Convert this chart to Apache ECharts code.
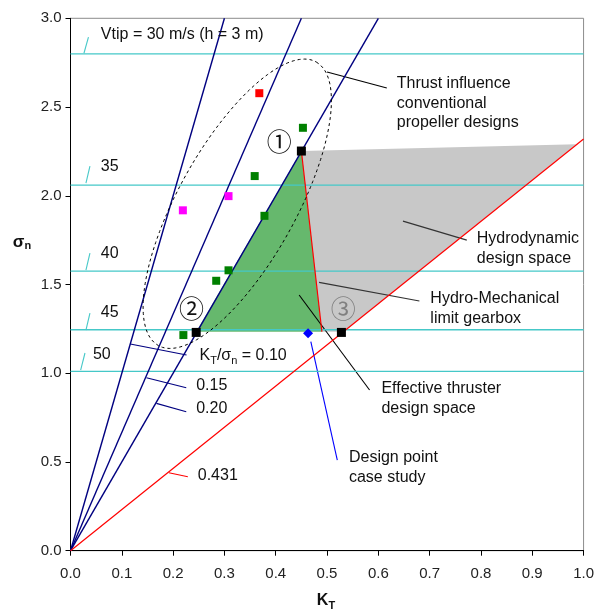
<!DOCTYPE html>
<html><head><meta charset="utf-8">
<script src="https://cdn.jsdelivr.net/npm/echarts@6/dist/echarts.min.js"></script>
<style>html,body{margin:0;padding:0;background:#fff}#c{width:597px;height:613px}</style>
</head><body><div id="c"></div>
<script>
// ---------------- data ----------------
const xTickValues = [0, 0.1, 0.2, 0.3, 0.4, 0.5, 0.6, 0.7, 0.8, 0.9, 1.0];
const yTickValues = [0, 0.5, 1.0, 1.5, 2.0, 2.5, 3.0];

// cavitation-number levels for tip speeds
const vtipSigma = [2.80, 2.06, 1.575, 1.245, 1.01];
const vtipLabels = ['Vtip = 30 m/s (h = 3 m)', '35', '40', '45', '50'];

// KT / sigma_n ratio lines
const ratioValues = [0.10, 0.15, 0.20];
const ratioLabels = ['0.10', '0.15', '0.20'];
const limitRatio = 0.431;

// existing designs
const greenKT = [0.453, 0.359, 0.378, 0.308, 0.284, 0.220];
const greenSigma = [2.383, 2.111, 1.887, 1.580, 1.521, 1.215];
const redKT = [0.368];
const redSigma = [2.578];
const magentaKT = [0.308, 0.219];
const magentaSigma = [1.998, 1.918];
const cornerKT = [0.450, 0.245, 0.528];
const cornerSigma = [2.252, 1.230, 1.230];
const designKT = [0.463];
const designSigma = [1.226];

// regions
const effectiveKT = [0.245, 0.450, 0.490];
const effectiveSigma = [1.234, 2.252, 1.234];
const hydroKT = [0.450, 0.986, 0.532, 0.490];
const hydroSigma = [2.252, 2.290, 1.234, 1.234];
const gearboxKT = [0.450, 0.490];
const gearboxSigma = [2.252, 1.234];

// ---------------- layout / style ----------------
const FONT = "'Liberation Sans', Arial, Helvetica, sans-serif";
const CJK = "'Noto Sans CJK JP', 'DejaVu Sans', sans-serif";
const CYAN = '#45c8c8';
const NAVY = '#000080';

const ellipse = { c: [0.325, 1.955], a: [0.1539, 0.799], b: [0.100, -0.162] };
function ellipsePts() {
  const pts = [];
  for (let i = 0; i <= 160; i++) {
    const t = i / 160 * Math.PI * 2;
    pts.push([ellipse.c[0] + ellipse.a[0] * Math.cos(t) + ellipse.b[0] * Math.sin(t),
              ellipse.c[1] + ellipse.a[1] * Math.cos(t) + ellipse.b[1] * Math.sin(t)]);
  }
  return pts;
}

const zip = (xs, ys) => xs.map((x, i) => [x, ys[i]]);

// annotation texts (first-line anchor in data units)
const notes = [
  { t: vtipLabels[0], p: [0.0592, 2.909] },
  { t: vtipLabels[1], p: [0.0592, 2.167] },
  { t: vtipLabels[2], p: [0.0592, 1.672] },
  { t: vtipLabels[3], p: [0.0592, 1.339] },
  { t: vtipLabels[4], p: [0.0437, 1.103] },
  { t: '{m|K}{s|T}{m|/σ}{s|n}{m| = ' + ratioLabels[0] + '}', p: [0.2515, 1.097], rich: true },
  { t: ratioLabels[1], p: [0.245, 0.930] },
  { t: ratioLabels[2], p: [0.245, 0.798] },
  { t: String(limitRatio), p: [0.248, 0.4225] },
  { t: 'Thrust influence\nconventional\npropeller designs', p: [0.636, 2.630] },
  { t: 'Hydrodynamic\ndesign space', p: [0.7918, 1.756] },
  { t: 'Hydro-Mechanical\nlimit gearbox', p: [0.7014, 1.418] },
  { t: 'Effective thruster\ndesign space', p: [0.606, 0.911] },
  { t: 'Design point\ncase study', p: [0.5427, 0.522] },
  { t: '①', p: [0.4068, 2.306], circ: true, color: '#111' },
  { t: '②', p: [0.236, 1.367], circ: true, color: '#111' },
  { t: '③', p: [0.5317, 1.366], circ: true, color: '#808080' }
];

// leader lines
const leaders = [
  { c: [[0.0262, 2.803], [0.0350, 2.894]], col: CYAN },
  { c: [[0.0301, 2.071], [0.0379, 2.167]], col: CYAN },
  { c: [[0.0301, 1.581], [0.0379, 1.677]], col: CYAN },
  { c: [[0.0301, 1.243], [0.0379, 1.339]], col: CYAN },
  { c: [[0.0198, 1.018], [0.0282, 1.114]], col: CYAN },
  { c: [[0.1165, 1.1645], [0.2262, 1.1025]], col: NAVY },
  { c: [[0.148, 0.975], [0.2256, 0.918]], col: NAVY },
  { c: [[0.1674, 0.830], [0.2256, 0.783]], col: NAVY },
  { c: [[0.1918, 0.4394], [0.2287, 0.4169]], col: '#ff0000' },
  { c: [[0.500, 2.697], [0.6165, 2.607]], col: '#000' },
  { c: [[0.648, 1.857], [0.7724, 1.750]], col: '#333' },
  { c: [[0.4845, 1.512], [0.680, 1.407]], col: '#333' },
  { c: [[0.4456, 1.4406], [0.5829, 0.9054]], col: '#000' },
  { c: [[0.4684, 1.1775], [0.520, 0.511]], col: '#0000ff' }
];

function polySeries(xs, ys, fill) {
  return {
    type: 'custom', coordinateSystem: 'cartesian2d', silent: true,
    data: [[xs[0], ys[0]]],
    renderItem: (params, api) => ({
      type: 'polygon',
      shape: { points: xs.map((x, i) => api.coord([x, ys[i]])) },
      style: { fill: fill, stroke: null }
    })
  };
}
function lineSeries(pts, color, width, dash) {
  return {
    type: 'line', data: pts, showSymbol: false, symbol: 'none', silent: true,
    lineStyle: { color: color, width: width, type: dash || 'solid' }
  };
}
function scatter(xs, ys, color, symbol, size) {
  return {
    type: 'scatter', data: zip(xs, ys), symbol: symbol, symbolSize: size,
    itemStyle: { color: color, opacity: 1 }, silent: true, z: 5
  };
}

const series = [];
series.push(polySeries(hydroKT, hydroSigma, '#c8c8c8'));
vtipSigma.forEach(s => series.push(lineSeries([[0, s], [1, s]], CYAN, 1.3)));
series.push(polySeries(effectiveKT, effectiveSigma, 'rgba(30,150,40,0.68)'));
ratioValues.forEach(r => series.push(lineSeries([[0, 0], [Math.min(1, 3 * r), Math.min(3, 1 / r)]], NAVY, 1.4)));
series.push(lineSeries([[0, 0], [1, 1 / limitRatio]], '#ff0000', 1.2));
series.push(lineSeries(zip(gearboxKT, gearboxSigma), '#ff0000', 1.2));
series.push(lineSeries(ellipsePts(), '#000', 1, [3, 3]));
series.push({
  type: 'lines', coordinateSystem: 'cartesian2d', silent: true,
  data: leaders.map(l => ({ coords: l.c, lineStyle: { color: l.col, width: 1.1 } })),
  lineStyle: { width: 1.1, opacity: 1 }
});
series.push(scatter(greenKT, greenSigma, '#008000', 'rect', 8));
series.push(scatter(redKT, redSigma, '#ff0000', 'rect', 8));
series.push(scatter(magentaKT, magentaSigma, '#ff00ff', 'rect', 8));
series.push(scatter(cornerKT, cornerSigma, '#000000', 'rect', 9));
series.push(scatter(designKT, designSigma, '#0000ff', 'diamond', 10));

const LH = 19.5;
series.push({
  type: 'custom', coordinateSystem: 'cartesian2d', silent: true, clip: false, z: 10,
  data: notes.map((n, i) => [n.p[0], n.p[1], i]),
  renderItem: (params, api) => {
    const n = notes[api.value(2)];
    const pt = api.coord([api.value(0), api.value(1)]);
    if (n.circ) {
      return { type: 'text', x: pt[0], y: pt[1],
        style: { text: n.t, fill: n.color, fontSize: 25, fontFamily: CJK, align: 'center', verticalAlign: 'middle' } };
    }
    const style = { text: n.t, fill: '#111', fontSize: 16, fontFamily: FONT,
      align: 'left', verticalAlign: 'top', lineHeight: LH };
    if (n.rich) {
      style.verticalAlign = 'middle';
      style.rich = {
        m: { fontSize: 16, fontFamily: FONT, fill: '#111', lineHeight: 20 },
        s: { fontSize: 11, fontFamily: FONT, fill: '#111', lineHeight: 11, padding: [9, 0, 0, 0] }
      };
      return { type: 'text', x: pt[0], y: pt[1], style: style };
    }
    return { type: 'text', x: pt[0], y: pt[1] - LH / 2, style: style };
  }
});

const option = {
  animation: false,
  backgroundColor: '#fff',
  grid: { left: 70.5, right: 11.3, top: 18.3, bottom: 62.3, show: true,
          borderColor: '#8c8c8c', borderWidth: 1, backgroundColor: 'transparent' },
  xAxis: {
    type: 'value', min: 0, max: 1, interval: 0.1,
    axisLine: { lineStyle: { color: '#000', width: 1 } },
    axisTick: { length: 5, lineStyle: { color: '#000' } },
    axisLabel: { formatter: v => xTickValues.includes(+v.toFixed(1)) ? v.toFixed(1) : '',
                 fontSize: 15, color: '#222', fontFamily: FONT, margin: 16 },
    splitLine: { show: false }
  },
  yAxis: {
    type: 'value', min: 0, max: 3, interval: 0.5,
    axisLine: { lineStyle: { color: '#000', width: 1 } },
    axisTick: { length: 5, lineStyle: { color: '#000' } },
    axisLabel: { formatter: v => yTickValues.includes(+v.toFixed(1)) ? v.toFixed(1) : '',
                 fontSize: 15, color: '#222', fontFamily: FONT, margin: 9 },
    splitLine: { show: false }
  },
  graphic: [
    { type: 'text', x: 326, y: 601, z: 100,
      style: { text: '{b|K}{s|T}', align: 'center', verticalAlign: 'middle',
        rich: { b: { fontSize: 16, fontWeight: 'bold', fontFamily: FONT, fill: '#111', lineHeight: 18 },
                s: { fontSize: 11, fontWeight: 'bold', fontFamily: FONT, fill: '#111', lineHeight: 11, padding: [9, 0, 0, 0] } } } },
    { type: 'text', x: 22, y: 242, z: 100,
      style: { text: '{b|σ}{s|n}', align: 'center', verticalAlign: 'middle',
        rich: { b: { fontSize: 17, fontWeight: 'bold', fontFamily: FONT, fill: '#111', lineHeight: 18 },
                s: { fontSize: 11, fontWeight: 'bold', fontFamily: FONT, fill: '#111', lineHeight: 11, padding: [8, 0, 0, 0] } } } }
  ],
  series: series
};

const chart = echarts.init(document.getElementById('c'), null, { renderer: 'canvas' });
chart.setOption(option);
</script>
</body></html>
